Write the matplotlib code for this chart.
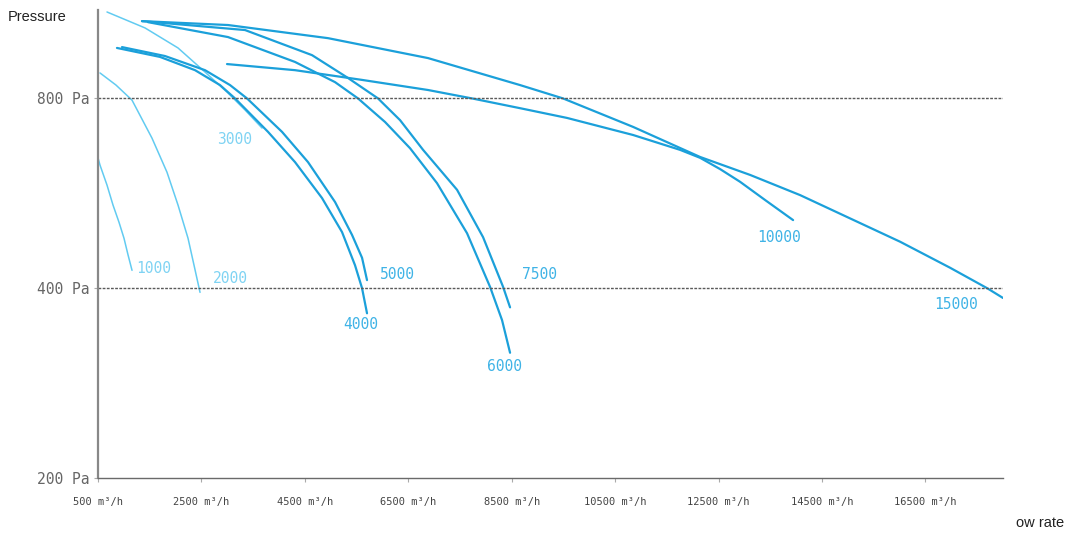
import matplotlib
matplotlib.use("Agg")
import matplotlib.pyplot as plt
from matplotlib.ticker import FixedLocator, NullLocator

# fan curves: flow (m3/h) vs static pressure (Pa)
flow_1000 = [500, 539, 674, 790, 906, 1003, 1080, 1158]
pa_1000 = [644, 627, 583, 542, 509, 480, 452, 427]

flow_2000 = [539, 848, 1158, 1544, 1834, 2047, 2241, 2376, 2473]
pa_2000 = [878, 840, 795, 692, 611, 542, 480, 428, 394]

flow_3000 = [674, 1409, 2047, 2569, 3014, 3343, 3672]
pa_3000 = [1097, 1035, 962, 881, 816, 767, 718]

flow_4000 = [867, 1699, 2376, 2859, 3150, 3788, 4310, 4832, 5219, 5470, 5606, 5702]
pa_4000 = [962, 931, 887, 840, 800, 708, 634, 556, 491, 435, 400, 365]

flow_5000 = [964, 1796, 2569, 3053, 3382, 4059, 4561, 5084, 5412, 5606, 5702]
pa_5000 = [965, 934, 887, 840, 800, 708, 634, 548, 486, 447, 412]

flow_6000 = [1467, 3014, 4310, 5084, 5528, 6051, 6534, 7056, 7636, 8081, 8313, 8468]
pa_6000 = [1057, 1001, 914, 849, 800, 734, 667, 587, 489, 402, 356, 316]

flow_7500 = [1351, 3343, 4639, 5335, 5915, 6341, 6786, 7443, 7946, 8333, 8468]
pa_7500 = [1061, 1027, 937, 862, 800, 739, 663, 573, 482, 402, 373]

flow_10000 = [2995, 4310, 5606, 6882, 7733, 8661, 9570, 10847, 11756, 12143,
              12530, 12916, 13400, 13941]
pa_10000 = [907, 887, 856, 825, 800, 772, 745, 700, 663, 644, 618, 590, 552, 513]

flow_15000 = [1351, 3014, 4948, 6882, 8661, 9493, 10847, 12143, 13110, 14077,
              16011, 16978, 17694, 18000]
pa_15000 = [1061, 1046, 997, 927, 840, 800, 721, 646, 605, 562, 474, 431, 400, 386]

curve_names = ["1000", "2000", "3000", "4000", "5000", "6000", "7500", "10000", "15000"]

x_ticks = [500, 2500, 4500, 6500, 8500, 10500, 12500, 14500, 16500]
x_tick_labels = [f"{v} m³/h" for v in x_ticks]
y_ticks = [200, 400, 800]
y_tick_labels = ["200 Pa", "400 Pa", "800 Pa"]

curves = [
    (flow_1000, pa_1000), (flow_2000, pa_2000), (flow_3000, pa_3000),
    (flow_4000, pa_4000), (flow_5000, pa_5000), (flow_6000, pa_6000),
    (flow_7500, pa_7500), (flow_10000, pa_10000), (flow_15000, pa_15000),
]

# label position relative to the end of its curve (pixels)
label_offsets = [(22, 2), (30, 14), (-27, -11), (-6, -11), (30, 6),
                 (-6, -14), (29, 33), (-14, -17), (-47, -7)]

light = "#62cbf1"
dark = "#1ba0da"

fig = plt.figure(figsize=(10.66, 5.36), dpi=100)
ax = fig.add_axes([98 / 1066, 58 / 536, 905 / 1066, 468 / 536])

ax.set_yscale("log")
ax.set_xlim(500, 18000)
ax.set_ylim(200, 1105)

for i, ((fx, py), name) in enumerate(zip(curves, curve_names)):
    small = i < 3
    ax.plot(fx, py, color=light if small else dark, lw=1.1 if small else 1.6,
            solid_capstyle="round", solid_joinstyle="round")
    ax.annotate(name, (fx[-1], py[-1]), xytext=label_offsets[i],
                textcoords="offset pixels", ha="center", va="center",
                fontsize=10.5, color="#7fd3f3" if small else "#3fb3e6",
                family="DejaVu Sans Mono")

# dashed reference lines
for v in [400, 800]:
    ax.axhline(v, color="#5a5a5a", lw=1.0, ls=(0, (2, 1)))

for s in ["top", "right"]:
    ax.spines[s].set_visible(False)
ax.spines["left"].set_color("#888888")
ax.spines["left"].set_linestyle((0, (1, 1)))
ax.spines["left"].set_linewidth(1.6)
ax.spines["bottom"].set_color("#6a6a6a")
ax.spines["bottom"].set_linestyle((0, (2, 1)))
ax.spines["bottom"].set_linewidth(1.0)

ax.yaxis.set_major_locator(FixedLocator(y_ticks))
ax.yaxis.set_minor_locator(NullLocator())
ax.set_yticklabels(y_tick_labels, fontsize=10.5, color="#666666",
                   family="DejaVu Sans Mono")
ax.set_xticks(x_ticks)
ax.set_xticklabels(x_tick_labels, fontsize=7.5, color="#444444",
                   family="DejaVu Sans Mono")
ax.tick_params(axis="both", length=3, width=0.8, color="#aaaaaa", pad=3)
ax.tick_params(axis="x", pad=11)

fig.text(8 / 1066, 1 - 17 / 536, "Pressure", fontsize=10.5, color="#222222",
         family="Liberation Sans", va="center")
fig.text(1 - 2 / 1066, 1 - 523 / 536, "ow rate", fontsize=10.5, color="#222222",
         family="Liberation Sans", va="center", ha="right")

fig.savefig("out.png", dpi=100)
